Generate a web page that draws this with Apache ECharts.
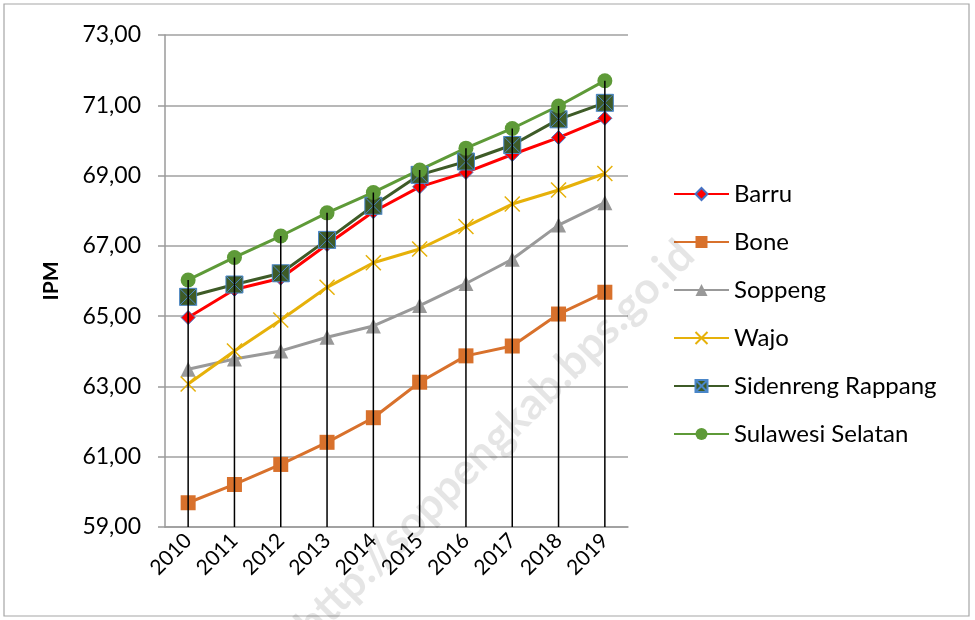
<!DOCTYPE html>
<html>
<head>
<meta charset="utf-8">
<script src="https://cdn.jsdelivr.net/npm/echarts@6/dist/echarts.min.js"></script>
<style>
html,body{margin:0;padding:0;background:#fff;}
#chart{width:975px;height:620px;}
</style>
</head>
<body>
<div id="chart"></div>
<script>
const years = ['2010','2011','2012','2013','2014','2015','2016','2017','2018','2019'];
const barru = [64.96, 65.76, 66.08, 67.04, 67.97, 68.68, 69.09, 69.60, 70.08, 70.63];
const bone = [59.69, 60.21, 60.78, 61.41, 62.11, 63.12, 63.87, 64.15, 65.06, 65.68];
const soppeng = [63.49, 63.78, 64.01, 64.40, 64.72, 65.30, 65.93, 66.62, 67.59, 68.23];
const wajo = [63.07, 64.01, 64.89, 65.82, 66.52, 66.91, 67.55, 68.19, 68.59, 69.06];
const sidrap = [65.55, 65.90, 66.22, 67.17, 68.14, 69.02, 69.40, 69.87, 70.60, 71.07];
const sulsel = [66.03, 66.67, 67.28, 67.94, 68.52, 69.16, 69.78, 70.34, 70.98, 71.70];
const yTicks = {min: 59, max: 73, interval: 2};
const yTitle = 'IPM';
const watermark = 'http://soppengkab.bps.go.id';

const FONT = 'Lato';
const chart = echarts.init(document.getElementById('chart'));

const dropData = years.map((y, i) => [i, Math.max(barru[i], bone[i], soppeng[i], wajo[i], sidrap[i], sulsel[i])]);

function lineSeries(name, data, color, symbol, size, itemStyle) {
  return {
    name: name, type: 'line', data: data,
    symbol: symbol, symbolSize: size, showAllSymbol: true,
    lineStyle: {color: color, width: 3},
    itemStyle: Object.assign({color: color}, itemStyle || {}),
    emphasis: {disabled: true}, animation: false
  };
}

chart.setOption({
  backgroundColor: '#fff',
  animation: false,
  graphic: [
    {type: 'rect', shape: {x: 4, y: 4, width: 965, height: 612}, style: {fill: 'none', stroke: '#a6a6a6', lineWidth: 1.2}, z: -10},
    {type: 'text', x: 495, y: 440, rotation: Math.PI / 4, style: {text: watermark, font: 'bold 44px ' + FONT, fill: 'rgba(0,0,0,0.10)', align: 'center', verticalAlign: 'middle'}, z: 100}
  ],
  grid: {left: 165, right: 347, top: 35, bottom: 93},
  legend: {
    orient: 'vertical', left: 668, top: 176,
    itemWidth: 55, itemHeight: 15, itemGap: 22,
    data: ['Barru','Bone','Soppeng','Wajo','Sidenreng Rappang','Sulawesi Selatan'],
    textStyle: {fontFamily: FONT, fontSize: 24, color: '#000', lineHeight: 26, padding: [0,0,0,0]}
  },
  xAxis: {
    type: 'category', data: years, boundaryGap: true,
    axisLine: {lineStyle: {color: '#9a9a9a', width: 1.5}},
    axisTick: {show: false},
    axisLabel: {rotate: 45, fontFamily: FONT, fontSize: 21, color: '#000', margin: 10, interval: 0},
    splitLine: {show: false}
  },
  yAxis: {
    type: 'value', min: yTicks.min, max: yTicks.max, interval: yTicks.interval,
    name: yTitle, nameLocation: 'middle', nameGap: 103, nameRotate: 90,
    nameTextStyle: {fontFamily: FONT, fontSize: 21, fontWeight: 'bold', color: '#000'},
    axisLine: {show: true, lineStyle: {color: '#9a9a9a', width: 1.5}},
    axisTick: {show: true, length: 7, lineStyle: {color: '#9a9a9a', width: 1.5}},
    axisLabel: {fontFamily: FONT, fontSize: 23, color: '#000', margin: 24,
      formatter: v => v.toFixed(2).replace('.', ',')},
    splitLine: {lineStyle: {color: '#a0a0a0', width: 1.5}}
  },
  series: [
    lineSeries('Barru', barru, '#ff0000', 'diamond', 14, {borderColor: '#4472c4', borderWidth: 1}),
    lineSeries('Bone', bone, '#d8712c', 'rect', 15),
    lineSeries('Soppeng', soppeng, '#999999', 'triangle', 15),
    lineSeries('Wajo', wajo, '#e6b10a', 'path://M0,0L10,10M10,0L0,10', 15, {color: 'none', borderColor: '#e6b10a', borderWidth: 1.5}),
    lineSeries('Sidenreng Rappang', sidrap, '#3e5b27', 'path://M0,0L10,0L10,10L0,10ZM0,0L10,10M10,0L0,10', 17, {color: '#3e5b27', borderColor: '#4a86c8', borderWidth: 1}),
    lineSeries('Sulawesi Selatan', sulsel, '#5e9a38', 'circle', 15),
    {
      name: 'drop', type: 'custom', data: dropData, z: 5, silent: true,
      renderItem: function (params, api) {
        const top = api.coord([api.value(0), api.value(1)]);
        const bottom = api.coord([api.value(0), yTicks.min]);
        return {type: 'line', shape: {x1: top[0], y1: top[1], x2: bottom[0], y2: bottom[1]},
          style: {stroke: '#000', lineWidth: 1.5}};
      }
    }
  ]
});
</script>
</body>
</html>
